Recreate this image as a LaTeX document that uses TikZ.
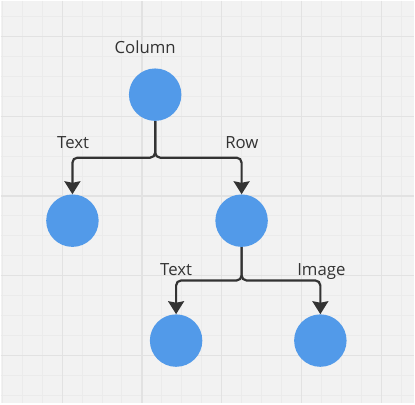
\documentclass[tikz,border=0pt]{standalone}
\usepackage{fontspec}
\setmainfont{Open Sans}
\usepackage{tikz}
\usetikzlibrary{arrows.meta, positioning}

\definecolor{boardbg}{HTML}{F2F2F2}
\definecolor{gridminor}{HTML}{EBEBEB}
\definecolor{gridmajor}{HTML}{E2E2E2}
\definecolor{dotblue}{HTML}{529AE9}
\definecolor{inkgray}{HTML}{333333}

\begin{document}
\begin{tikzpicture}[
      x=1pt,
      y=-1pt,
      dot/.style={
          circle,
          fill=dotblue,
          draw=none,
          minimum size=52.6pt,
          inner sep=0pt
        },
      lbl/.style={
          anchor=base,
          inner sep=0pt,
          text=inkgray,
          font=\fontsize{16.8}{20}\selectfont
        },
      arrow/.style={
          -{Stealth[length=13pt, width=16pt, inset=1.5pt]},
          line width=2.2pt,
          draw=inkgray,
          rounded corners=5pt
        }
    ]

    % Board
    \fill[boardbg] (0,0) rectangle (415,404);
    \foreach \x in {1.7,21.7,...,415} \draw[gridminor, line width=1pt] (\x,0) -- (\x,404);
    \foreach \y in {16,36,...,404} \draw[gridminor, line width=1pt] (0,\y) -- (415,\y);
    \foreach \x in {61.7,141.7,...,415} \draw[gridmajor, line width=1.3pt] (\x,0) -- (\x,404);
    \foreach \y in {36,116,...,404} \draw[gridmajor, line width=1.3pt] (0,\y) -- (415,\y);
    \useasboundingbox (0,0) rectangle (415,404);

    % Nodes
    \node[dot] (col) at (155,94.3) {};
    \node[dot] (txtA) at (72,220.7) {};
    \node[dot] (row) at (241.7,220.7) {};
    \node[dot] (txtB) at (176,341) {};
    \node[dot] (img) at (320.7,341) {};

    % Labels
    \node[lbl] (colLbl) at (145,52.7) {Column};
    \node[lbl] (txtALbl) at (72.7,148.3) {Text};
    \node[lbl] (rowLbl) at (242,148.3) {Row};
    \node[lbl] (txtBLbl) at (176,276) {Text};
    \node[lbl] (imgLbl) at (321.7,276) {Image};

    % Arrows
    \coordinate (splitA) at (155,157.5);
    \coordinate (splitB) at (241.7,280.7);
    \draw[arrow] (col.south) -- (splitA) -| (txtA.north);
    \draw[arrow] (col.south) -- (splitA) -| (row.north);
    \draw[arrow] (row.south) -- (splitB) -| (txtB.north);
    \draw[arrow] (row.south) -- (splitB) -| (img.north);
  \end{tikzpicture}
\end{document}
